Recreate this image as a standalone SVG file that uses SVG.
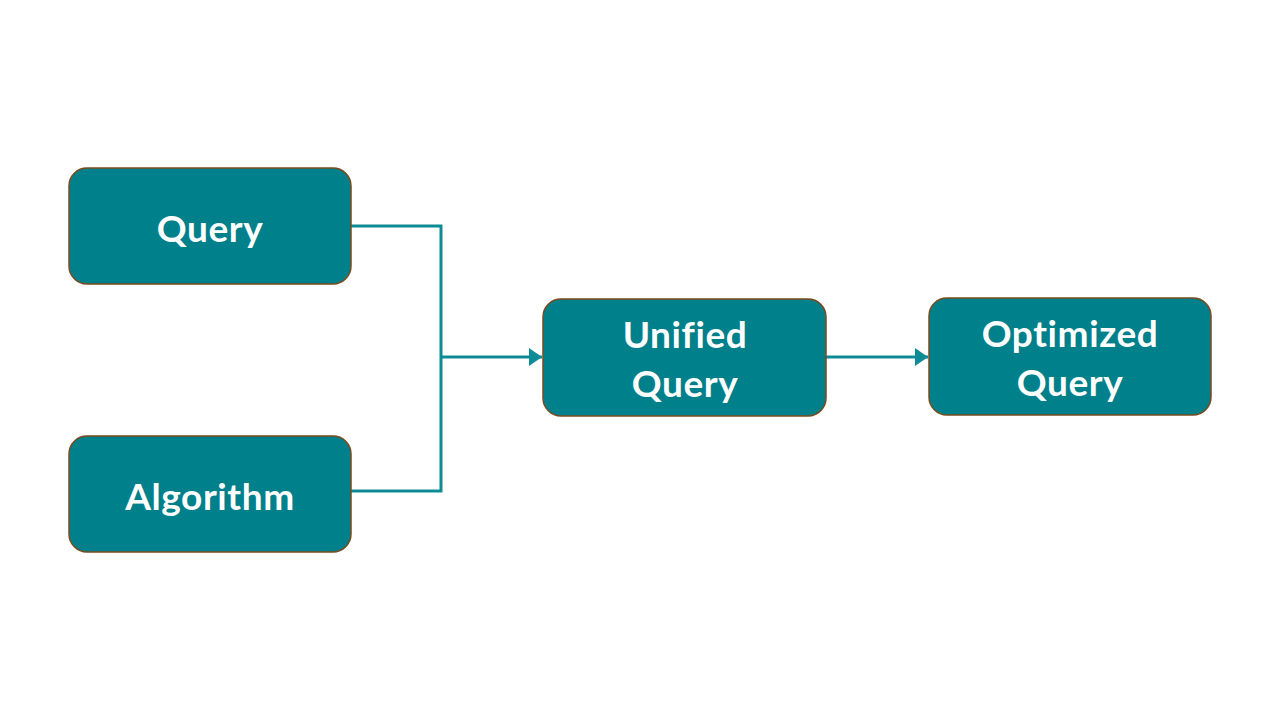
<svg xmlns="http://www.w3.org/2000/svg" width="1280" height="720" viewBox="0 0 1280 720">
<defs>
<style>
.box{fill:#00808A;stroke:#7A4A1E;stroke-width:1.5}
.lbl{font-family:Lato,"Open Sans","Liberation Sans",sans-serif;font-weight:700;font-size:37px;letter-spacing:0.6px;fill:#FFFFFF;text-anchor:middle;font-variant-ligatures:none;font-feature-settings:"liga" 0}
.con{fill:none;stroke:#0E8C96;stroke-width:3}
</style>
<marker id="arr" markerWidth="13" markerHeight="18" refX="13" refY="9" orient="auto" markerUnits="userSpaceOnUse" viewBox="0 0 13 18">
<path d="M0,0 L13,9 L0,18 Z" fill="#0E8C96"/>
</marker>
</defs>
<rect width="1280" height="720" fill="#FFFFFF"/>
<g id="connectors">
<polyline class="con" points="351,226 441,226 441,491 351,491"/>
<line class="con" x1="441" y1="357" x2="542" y2="357" marker-end="url(#arr)"/>
<line class="con" x1="826" y1="357" x2="928" y2="357" marker-end="url(#arr)"/>
</g>
<g id="query">
<rect class="box" x="69" y="168" width="282" height="116" rx="18"/>
<text class="lbl" x="210" y="242">Query</text>
</g>
<g id="algorithm">
<rect class="box" x="69" y="436" width="282" height="116" rx="18"/>
<text class="lbl" x="210" y="510">Algorithm</text>
</g>
<g id="unified">
<rect class="box" x="543" y="299" width="283" height="117" rx="18"/>
<text class="lbl" x="685" y="348">Unified</text>
<text class="lbl" x="685" y="397">Query</text>
</g>
<g id="optimized">
<rect class="box" x="929" y="298" width="282" height="117" rx="18"/>
<text class="lbl" x="1070" y="347">Optimized</text>
<text class="lbl" x="1070" y="396">Query</text>
</g>
</svg>
